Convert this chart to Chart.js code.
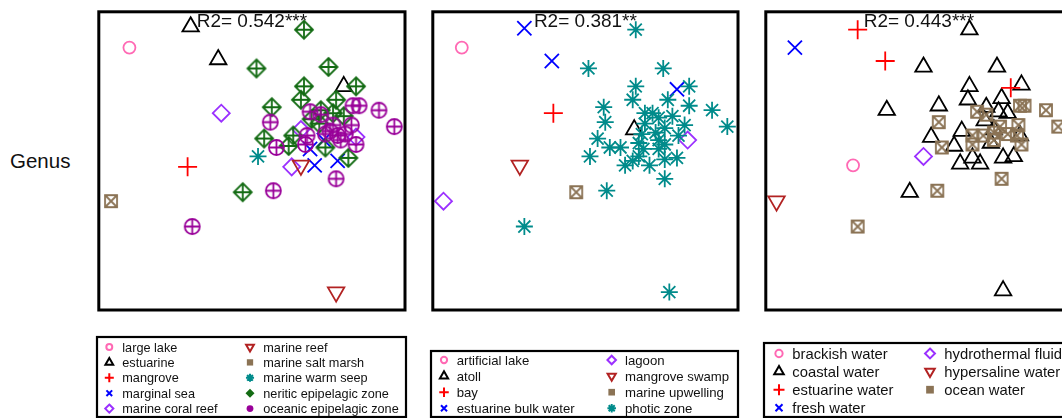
<!DOCTYPE html>
<html>
<head>
<meta charset="utf-8">
<script src="https://cdn.jsdelivr.net/npm/chart.js@4.4.0/dist/chart.umd.min.js"></script>
<style>
  body { margin: 0; width: 1062px; height: 418px; overflow: hidden; background: #fff; position: relative;
         font-family: "Liberation Sans", Arial, sans-serif; }
  .panel { position: absolute; top: 0; width: 330px; height: 418px; }
  #genus { position: absolute; left: 10px; top: 151px; font-size: 20.5px; line-height: 1; color: #111; }
</style>
</head>
<body>
<div id="genus">Genus</div>
<div class="panel" style="left:87px"><canvas id="c1" width="330" height="418"></canvas></div>
<div class="panel" style="left:421px"><canvas id="c2" width="330" height="418"></canvas></div>
<div class="panel" style="left:754px"><canvas id="c3" width="330" height="418"></canvas></div>
<script>
// panel 1 - categories and NMDS scores (axis scaled 0..100)
const cats1 = ['large lake', 'estuarine', 'mangrove', 'marginal sea', 'marine coral reef',
  'marine reef', 'marine salt marsh', 'marine warm seep', 'neritic epipelagic zone', 'oceanic epipelagic zone'];
const largeLake = [[10, 88]];
const estuarine = [[30, 95], [39, 84], [80, 75]];
const mangrove = [[29, 48]];
const marginalSea = [[69, 54], [70.5, 48.5], [78, 50], [73.5, 57]];
const coralReef = [[40, 66], [63, 48], [66, 60.5], [84, 58]];
const marineReef = [[66, 48.5], [77.5, 6]];
const saltMarsh = [[4, 36.5]];
const warmSeep = [[52, 51.5]];
const neritic = [[67, 94], [51.5, 81], [75, 81.5], [84, 75], [67, 75], [66, 70.5], [77.5, 70.5], [56.5, 68],
  [72.5, 67], [76.5, 66], [80, 65], [69.5, 64], [72, 62.5], [54, 57.5], [62, 55], [63.5, 58.5], [74, 54.5],
  [81.5, 51], [47, 39.5]];
const oceanic = [[69, 66.5], [72.5, 65.5], [83, 68.5], [85, 68.5], [91.5, 67], [96.5, 61.5], [56, 63], [82.5, 62],
  [76.5, 62], [75.5, 60], [78, 58.5], [80.5, 59], [84, 55.5], [68, 58.5], [67.5, 55.5], [58, 54.5], [77.5, 44],
  [57, 40], [30.5, 28], [74, 59], [79, 57]];

// panel 2
const cats2 = ['artificial lake', 'atoll', 'bay', 'estuarine bulk water', 'lagoon', 'mangrove swamp',
  'marine upwelling', 'photic zone'];
const artificialLake = [[9.5, 88]];
const atoll = [[66, 60.5]];
const bay = [[39.5, 66]];
const estuarineBulk = [[30, 94.5], [39, 83.5], [80, 74]];
const lagoon = [[3.5, 36.5], [83.5, 57]];
const mangroveSwamp = [[28.5, 48.5]];
const upwelling = [[47, 39.5]];
const photic = [[66.5, 94], [51, 81], [75.5, 81], [66.5, 75], [84, 75], [65.5, 70.5], [56, 68], [84, 68.5],
  [91.5, 67], [96.5, 61.5], [56.5, 63], [77, 70.5], [72, 66], [74, 64.5], [78.5, 65], [69.5, 62.5], [82.5, 62],
  [76, 61], [73, 59.5], [80.5, 58.5], [54, 57.5], [58, 54.5], [61.5, 54.5], [67.5, 56], [74, 57], [69, 54],
  [51.5, 51.5], [67.5, 51.5], [76, 50.5], [80, 51], [63, 48.5], [71, 48.5], [76, 44], [57, 40], [30, 28],
  [77.5, 6], [65.5, 50], [74, 54], [69.5, 66], [76, 55.5], [68.5, 59]];

// panel 3
const cats3 = ['brackish water', 'coastal water', 'estuarine water', 'fresh water', 'hydrothermal fluid',
  'hypersaline water', 'ocean water'];
const brackish = [[28.5, 48.5]];
const coastal = [[66.5, 94], [51.5, 81.5], [75.5, 81.5], [66.5, 75], [83.5, 75.5], [39.5, 67], [56.5, 68.5],
  [66, 70.5], [77, 71], [72, 68], [76, 66.5], [79, 66], [71.5, 63.5], [54, 58], [61.5, 55], [64, 60], [83, 58.5],
  [63.5, 49], [70, 49], [77.5, 51], [81, 51.5], [67.5, 51], [47, 39.5], [77.5, 6.5], [74.5, 60.5], [73.5, 56]];
const estuarineWater = [[30, 94], [39, 83.5], [80, 74.5]];
const freshWater = [[9.5, 88]];
const hydrothermal = [[51.5, 51.5]];
const hypersaline = [[3.5, 36.5]];
const oceanWater = [[83, 68.5], [84.5, 68.5], [91.5, 67], [95.5, 61.5], [56.5, 63], [69, 66.5], [72, 65.5],
  [82.5, 62], [76.5, 61.5], [79, 59], [82, 58.5], [83.5, 55.5], [67.5, 58.5], [67.5, 55.5], [57.5, 54.5],
  [77, 44], [56, 40], [30, 28], [74.5, 59.5], [74.5, 57], [71, 58.5]];

const r2Labels = ['R2= 0.542***', 'R2= 0.381**', 'R2= 0.443***'];

// marker style per group position (same sequence in every panel)
const kinds = ['circle', 'triangle', 'plus', 'x', 'diamond', 'down', 'boxx', 'star', 'diamondplus', 'circleplus'];
const colors = ['#FF69B4', '#000000', '#FF0000', '#0000FF', '#9B30FF', '#B22222', '#8B7355', '#008B8B', '#136B13', '#990099'];
const LW = 1.8;

function markerPath(ctx, kind, x, y, r, color, lw, filled) {
  ctx.save();
  ctx.strokeStyle = color; ctx.fillStyle = color; ctx.lineWidth = lw;
  const shape = (fn) => { ctx.beginPath(); fn(); ctx.closePath(); filled ? ctx.fill() : ctx.stroke(); };
  const lines = (segs) => { ctx.beginPath(); segs.forEach(s => { ctx.moveTo(s[0], s[1]); ctx.lineTo(s[2], s[3]); }); ctx.stroke(); };
  const d = r * Math.SQRT1_2;
  switch (kind) {
    case 'circle': shape(() => ctx.arc(x, y, r, 0, Math.PI * 2)); break;
    case 'triangle': shape(() => { ctx.moveTo(x, y - r); ctx.lineTo(x + r * 0.866, y + r * 0.5); ctx.lineTo(x - r * 0.866, y + r * 0.5); }); break;
    case 'down': shape(() => { ctx.moveTo(x, y + r); ctx.lineTo(x + r * 0.866, y - r * 0.5); ctx.lineTo(x - r * 0.866, y - r * 0.5); }); break;
    case 'diamond': shape(() => { ctx.moveTo(x, y - r); ctx.lineTo(x + r, y); ctx.lineTo(x, y + r); ctx.lineTo(x - r, y); }); break;
    case 'plus': lines([[x - r, y, x + r, y], [x, y - r, x, y + r]]); break;
    case 'x': lines([[x - d, y - d, x + d, y + d], [x - d, y + d, x + d, y - d]]); break;
    case 'star': lines([[x - r, y, x + r, y], [x, y - r, x, y + r], [x - d, y - d, x + d, y + d], [x - d, y + d, x + d, y - d]]); break;
    case 'boxx':
      shape(() => ctx.rect(x - r, y - r, 2 * r, 2 * r));
      if (!filled) lines([[x - r, y - r, x + r, y + r], [x - r, y + r, x + r, y - r]]);
      break;
    case 'diamondplus':
      shape(() => { ctx.moveTo(x, y - r); ctx.lineTo(x + r, y); ctx.lineTo(x, y + r); ctx.lineTo(x - r, y); });
      if (!filled) lines([[x - r, y, x + r, y], [x, y - r, x, y + r]]);
      break;
    case 'circleplus':
      shape(() => ctx.arc(x, y, r, 0, Math.PI * 2));
      if (!filled) lines([[x - r, y, x + r, y], [x, y - r, x, y + r]]);
      break;
  }
  ctx.restore();
}

function markerImage(kind, color, r) {
  const c = document.createElement('canvas');
  const s = Math.ceil(2 * r + 4);
  c.width = s; c.height = s;
  markerPath(c.getContext('2d'), kind, s / 2, s / 2, r, color, LW, false);
  return c;
}

function pointOpts(i) {
  const k = kinds[i], col = colors[i];
  switch (k) {
    case 'circle': return { pointStyle: 'circle', pointRadius: 6 };
    case 'triangle': return { pointStyle: 'triangle', pointRadius: 9.5 };
    case 'plus': return { pointStyle: 'cross', pointRadius: 9.5 };
    case 'x': return { pointStyle: 'crossRot', pointRadius: 10 };
    case 'diamond': return { pointStyle: 'rectRot', pointRadius: 8.5 };
    case 'down': return { pointStyle: 'triangle', pointRadius: 9.5, pointRotation: 180 };
    case 'star': return { pointStyle: 'star', pointRadius: 8.5 };
    case 'boxx': return { pointStyle: markerImage(k, col, 6) };
    case 'diamondplus': return { pointStyle: markerImage(k, col, 9) };
    case 'circleplus': return { pointStyle: markerImage(k, col, 7.5) };
  }
}

const legendSize = { circle: 3.3, triangle: 5, plus: 5, x: 4.5, diamond: 4.5, down: 5, boxx: 3.5, star: 4.5, diamondplus: 5, circleplus: 3.8 };
const legendFilled = { boxx: true, diamondplus: true, circleplus: true };

function framePlugin(r2, labels, left, lg) {
  return {
    id: 'frame',
    afterDatasetsDraw(chart) {
      const ctx = chart.ctx, a = chart.chartArea;
      ctx.save();
      ctx.lineWidth = 3; ctx.strokeStyle = '#000';
      ctx.strokeRect(a.left, a.top, a.right - a.left, a.bottom - a.top);
      ctx.fillStyle = '#111';
      ctx.font = '19px "Liberation Sans", Arial, sans-serif';
      ctx.textAlign = 'center'; ctx.textBaseline = 'alphabetic';
      ctx.fillText(r2, (a.left + a.right) / 2, 27);
      // legend box below the plot
      ctx.lineWidth = 2.2;
      ctx.strokeRect(lg.x0 - left, lg.y0, lg.x1 - lg.x0, lg.y1 - lg.y0);
      ctx.font = lg.font + 'px "Liberation Sans", Arial, sans-serif';
      ctx.textAlign = 'left'; ctx.textBaseline = 'middle';
      labels.forEach((lab, i) => {
        const col = Math.floor(i / lg.perCol), row = i % lg.perCol;
        const y = lg.rowY + row * lg.step;
        const k = kinds[i];
        markerPath(ctx, k, lg.cols[col][0] - left, y, legendSize[k] * lg.scale, colors[i], 2, !!legendFilled[k]);
        ctx.fillStyle = '#111';
        ctx.fillText(lab, lg.cols[col][1] - left, y + 1);
      });
      ctx.restore();
    }
  };
}

function makePanel(id, left, box, labels, groups, r2, lg) {
  const datasets = groups.map((pts, i) => Object.assign({
    label: labels[i],
    data: pts.map(p => ({ x: p[0], y: p[1] })),
    borderColor: colors[i],
    backgroundColor: 'rgba(0,0,0,0)',
    pointBorderWidth: LW,
    order: groups.length - i,
    clip: false
  }, pointOpts(i)));
  new Chart(document.getElementById(id), {
    type: 'scatter',
    data: { datasets },
    options: {
      responsive: false, animation: false, events: [],
      layout: { padding: { left: box[0] - left, right: 330 - (box[1] - left), top: box[2], bottom: 418 - box[3] } },
      scales: { x: { display: false, min: 0, max: 100 }, y: { display: false, min: 0, max: 100 } },
      plugins: { legend: { display: false }, tooltip: { enabled: false } }
    },
    plugins: [framePlugin(r2, labels, left, lg)]
  });
}

makePanel('c1', 87, [97, 405, 7, 310], cats1,
  [largeLake, estuarine, mangrove, marginalSea, coralReef, marineReef, saltMarsh, warmSeep, neritic, oceanic],
  r2Labels[0],
  { x0: 97, y0: 337, x1: 406, y1: 417, font: 12.7, rowY: 347, step: 15.4, perCol: 5, scale: 0.9,
    cols: [[109.3, 122.3], [250, 263.3]] });

makePanel('c2', 421, [431, 738, 7, 310], cats2,
  [artificialLake, atoll, bay, estuarineBulk, lagoon, mangroveSwamp, upwelling, photic],
  r2Labels[1],
  { x0: 431, y0: 351, x1: 738, y1: 417, font: 13.2, rowY: 360, step: 16.1, perCol: 4, scale: 0.95,
    cols: [[444, 456.7], [611.7, 625]] });

makePanel('c3', 754, [764, 1072, 7, 310], cats3,
  [brackish, coastal, estuarineWater, freshWater, hydrothermal, hypersaline, oceanWater],
  r2Labels[2],
  { x0: 764, y0: 343, x1: 1072, y1: 417, font: 14.8, rowY: 353.5, step: 18.1, perCol: 4, scale: 1.1,
    cols: [[779, 792.3], [930, 944.3]] });
</script>
</body>
</html>
